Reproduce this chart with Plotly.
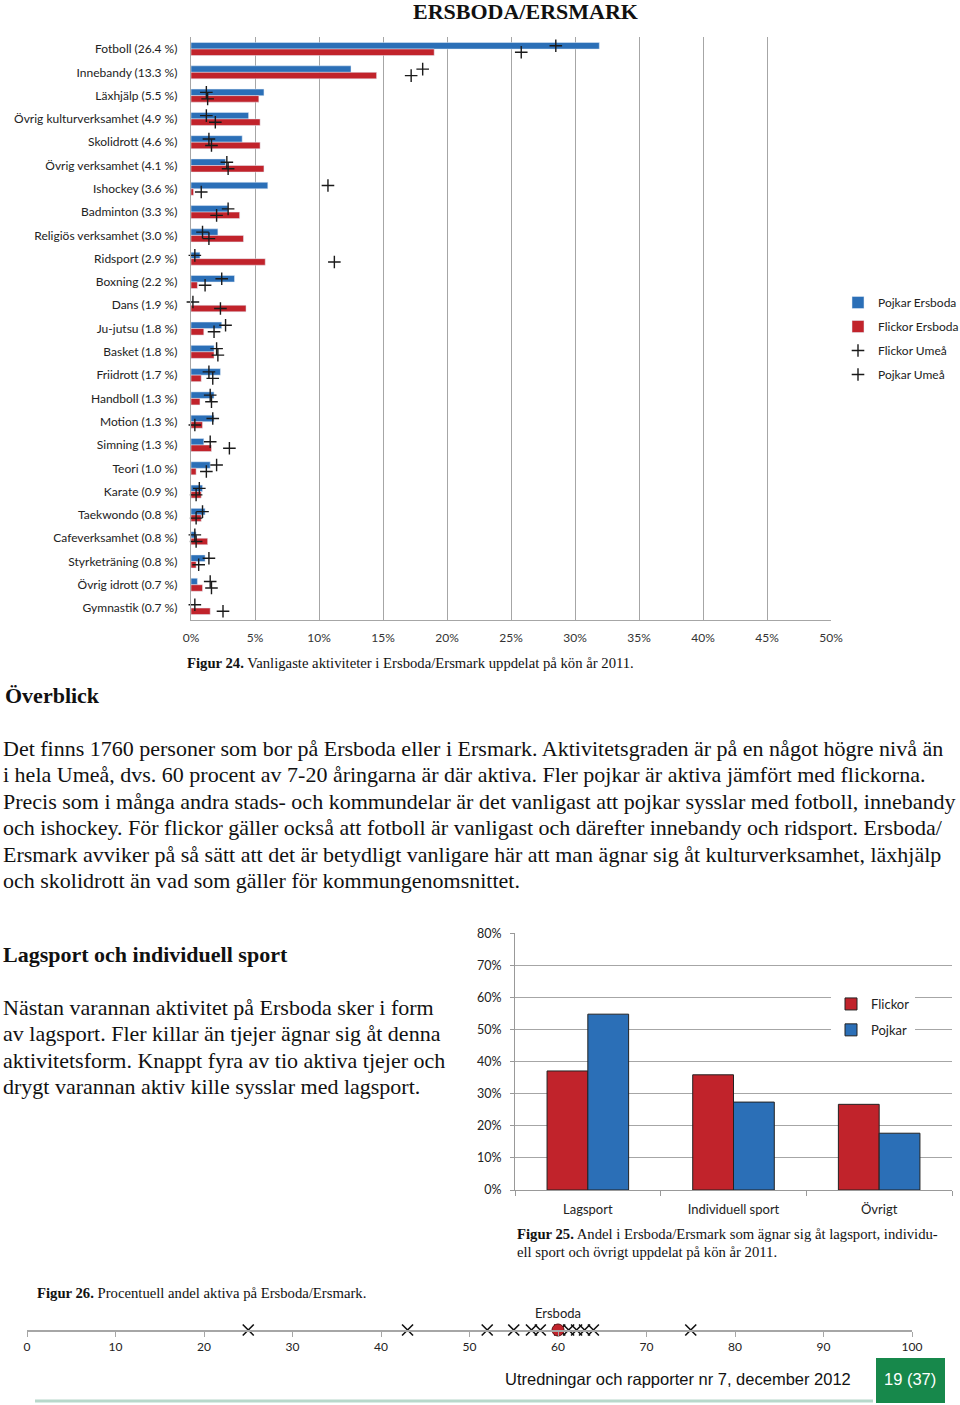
import plotly.graph_objects as go

# ---------------- data ----------------
categories = ["Fotboll (26.4 %)", "Innebandy (13.3 %)", "Läxhjälp (5.5 %)",
              "Övrig kulturverksamhet (4.9 %)", "Skolidrott (4.6 %)", "Övrig verksamhet (4.1 %)",
              "Ishockey (3.6 %)", "Badminton (3.3 %)", "Religiös verksamhet (3.0 %)",
              "Ridsport (2.9 %)", "Boxning (2.2 %)", "Dans (1.9 %)", "Ju-jutsu (1.8 %)",
              "Basket (1.8 %)", "Friidrott (1.7 %)", "Handboll (1.3 %)", "Motion (1.3 %)",
              "Simning (1.3 %)", "Teori (1.0 %)", "Karate (0.9 %)", "Taekwondo (0.8 %)",
              "Cafeverksamhet (0.8 %)", "Styrketräning (0.8 %)", "Övrig idrott (0.7 %)",
              "Gymnastik (0.7 %)"]
pojkar_ersboda = [31.9, 12.5, 5.7, 4.5, 4.0, 2.7, 6.0, 2.9, 2.1, 0.7, 3.4, 0.0, 2.4, 1.8,
                  2.3, 1.8, 1.8, 1.0, 1.5, 0.9, 1.1, 0.4, 1.1, 0.5, 0.0]
flickor_ersboda = [19.0, 14.5, 5.3, 5.4, 5.4, 5.7, 0.2, 3.8, 4.1, 5.8, 0.5, 4.3, 1.0, 1.8,
                   0.8, 0.7, 0.9, 1.6, 0.4, 0.8, 0.8, 1.3, 0.4, 0.9, 1.5]
flickor_umea = [25.8, 17.2, 1.3, 1.9, 1.6, 2.9, 0.8, 2.0, 1.4, 11.2, 1.1, 2.3, 1.8, 2.1,
                1.7, 1.6, 0.3, 3.0, 1.2, 0.4, 0.4, 0.4, 0.6, 1.6, 2.5]
pojkar_umea = [28.5, 18.1, 1.2, 1.2, 1.4, 2.8, 10.7, 2.9, 0.9, 0.3, 2.4, 0.15, 2.7, 2.0,
               1.4, 1.5, 1.7, 1.5, 2.0, 0.65, 0.9, 0.3, 1.4, 1.5, 0.3]
pct_ticks = [0, 5, 10, 15, 20, 25, 30, 35, 40, 45, 50]
pct_labels = ["0%", "5%", "10%", "15%", "20%", "25%", "30%", "35%", "40%", "45%", "50%"]

sport_types = ["Lagsport", "Individuell sport", "Övrigt"]
flickor_typ = [37.1, 35.9, 26.7]
pojkar_typ = [54.8, 27.4, 17.7]

ersboda_active = [60]
other_active = [25, 43, 52, 55, 57, 58, 60.2, 61.2, 62.1, 63.0, 64.0, 75]

# ---------------- helpers ----------------
W, H = 960, 1405
def px(x):
    return x / W
def py(y):
    return 1 - y / H

BLUE = "#2b6fb7"
RED = "#c1232b"
GRID = "#a6a6a6"
SANS = "Lato, 'Open Sans', sans-serif"
SERIF = "'Liberation Serif', 'DejaVu Serif', serif"

fig = go.Figure()

# ---------------- Figure 24 ----------------
ys = list(range(len(categories)))
off = 0.14
fig.add_trace(go.Bar(y=ys, x=pojkar_ersboda, orientation="h", name="Pojkar Ersboda",
                     marker=dict(color=BLUE), legendgroup="a", xaxis="x", yaxis="y"))
fig.add_trace(go.Bar(y=ys, x=flickor_ersboda, orientation="h", name="Flickor Ersboda",
                     marker=dict(color=RED), legendgroup="b", xaxis="x", yaxis="y"))
plus = dict(symbol="cross-thin", size=9, color="#1a1a1a", line=dict(width=1.4, color="#1a1a1a"))
fig.add_trace(go.Scatter(x=flickor_umea, y=[i + off for i in ys], mode="markers",
                         name="Flickor Umeå", marker=plus, legendgroup="c",
                         xaxis="x", yaxis="y", cliponaxis=False))
fig.add_trace(go.Scatter(x=pojkar_umea, y=[i - off for i in ys], mode="markers",
                         name="Pojkar Umeå", marker=plus, legendgroup="d",
                         xaxis="x", yaxis="y", cliponaxis=False))

# ---------------- Figure 25 ----------------
fig.add_trace(go.Bar(x=sport_types, y=flickor_typ, name="Flickor",
                     marker=dict(color=RED, line=dict(color="#222222", width=1)),
                     xaxis="x2", yaxis="y2", legend="legend2", legendgroup="e"))
fig.add_trace(go.Bar(x=sport_types, y=pojkar_typ, name="Pojkar",
                     marker=dict(color=BLUE, line=dict(color="#222222", width=1)),
                     xaxis="x2", yaxis="y2", legend="legend2", legendgroup="f"))

# ---------------- Figure 26 ----------------
fig.add_trace(go.Scatter(x=other_active, y=[0] * len(other_active), mode="markers",
                         marker=dict(symbol="x-thin", size=11, color="#111111",
                                     line=dict(width=1.6, color="#111111")),
                         showlegend=False, xaxis="x3", yaxis="y3", cliponaxis=False))
fig.add_trace(go.Scatter(x=ersboda_active, y=[0], mode="markers+text", text=["Ersboda"],
                         textposition="top center",
                         textfont=dict(family=SANS, size=13, color="#222222"),
                         marker=dict(symbol="circle", size=12, color=RED,
                                     line=dict(width=1, color="#5a1010")),
                         showlegend=False, xaxis="x3", yaxis="y3", cliponaxis=False))

# ---------------- annotations ----------------
ann = []
def text(x, y, s, size, family=SERIF, color="#111111", xanchor="left", yanchor="middle"):
    ann.append(dict(x=px(x), y=py(y), xref="paper", yref="paper", text=s, showarrow=False,
                    xanchor=xanchor, yanchor=yanchor, align="left",
                    font=dict(family=family, size=size, color=color)))

text(525, 12, "<b>ERSBODA/ERSMARK</b>", 22, xanchor="center")
text(185, 663, "<b>Figur 24.</b> Vanligaste aktiviteter i Ersboda/Ersmark uppdelat på kön år 2011.", 14.7)
text(3, 695, "<b>Överblick</b>", 22)
para1 = ["Det finns 1760 personer som bor på Ersboda eller i Ersmark. Aktivitetsgraden är på en något högre nivå än",
         "i hela Umeå, dvs. 60 procent av 7-20 åringarna är där aktiva. Fler pojkar är aktiva jämfört med flickorna.",
         "Precis som i många andra stads- och kommundelar är det vanligast att pojkar sysslar med fotboll, innebandy",
         "och ishockey. För flickor gäller också att fotboll är vanligast och därefter innebandy och ridsport. Ersboda/",
         "Ersmark avviker på så sätt att det är betydligt vanligare här att man ägnar sig åt kulturverksamhet, läxhjälp",
         "och skolidrott än vad som gäller för kommungenomsnittet."]
for k, line in enumerate(para1):
    text(1, 748 + 26.5 * k, line, 22)
text(1, 954, "<b>Lagsport och individuell sport</b>", 22)
para2 = ["Nästan varannan aktivitet på Ersboda sker i form",
         "av lagsport. Fler killar än tjejer ägnar sig åt denna",
         "aktivitetsform. Knappt fyra av tio aktiva tjejer och",
         "drygt varannan aktiv kille sysslar med lagsport."]
for k, line in enumerate(para2):
    text(1, 1007 + 26.6 * k, line, 22)
text(515, 1234, "<b>Figur 25.</b> Andel i Ersboda/Ersmark som ägnar sig åt lagsport, individu-", 14.7)
text(515, 1252, "ell sport och övrigt uppdelat på kön år 2011.", 14.7)
text(35, 1293, "<b>Figur 26.</b> Procentuell andel aktiva på Ersboda/Ersmark.", 14.7)
text(853, 1379, "Utredningar och rapporter nr 7, december 2012", 16.5,
     family="'Liberation Sans', Arial, sans-serif", xanchor="right")
text(910, 1379, "19 (37)", 16.5, family="'Liberation Sans', Arial, sans-serif",
     color="#ffffff", xanchor="center")

shapes = [
    dict(type="rect", xref="paper", yref="paper", x0=px(876), x1=px(945), y0=py(1403), y1=py(1358),
         fillcolor="#17884b", line=dict(width=0), layer="below"),
    dict(type="line", xref="paper", yref="paper", x0=px(35), x1=px(873), y0=py(1401), y1=py(1401),
         line=dict(color="#b8d8cb", width=3)),
]

fig.update_layout(
    width=W, height=H, margin=dict(l=0, r=0, t=0, b=0, pad=0, autoexpand=False),
    paper_bgcolor="white", plot_bgcolor="white",
    barmode="group", bargap=0.44, bargroupgap=0,
    showlegend=True,
    annotations=ann, shapes=shapes,
    legend=dict(x=px(838), y=py(288), xanchor="left", yanchor="top",
                font=dict(family=SANS, size=12, color="#222222"),
                bgcolor="rgba(0,0,0,0)", tracegroupgap=5, itemwidth=30,
                traceorder="grouped"),
    legend2=dict(x=px(831), y=py(989), xanchor="left", yanchor="top",
                 font=dict(family=SANS, size=13, color="#222222"),
                 bgcolor="white", tracegroupgap=6, itemwidth=30, traceorder="grouped"),
    xaxis=dict(domain=[px(191), px(831)], range=[0, 50], tickvals=pct_ticks,
               ticktext=pct_labels, showgrid=True, gridcolor=GRID, gridwidth=1.3,
               showline=True, linecolor=GRID, linewidth=1.3, zeroline=False, ticks="",
               tickfont=dict(family=SANS, size=12, color="#333333"),
               ticklabelstandoff=7, anchor="y", fixedrange=True),
    yaxis=dict(domain=[py(619.7), py(37.4)], range=[24.5, -0.5], tickvals=ys,
               ticktext=categories, showgrid=False, showline=True, linecolor=GRID,
               linewidth=1.3, zeroline=False, ticks="",
               tickfont=dict(family=SANS, size=12, color="#222222"),
               ticklabelstandoff=10, anchor="x", fixedrange=True),
    xaxis2=dict(domain=[px(515), px(952)], type="category", anchor="y2",
                showline=True, linecolor="#999999", ticks="outside", tickson="boundaries",
                ticklen=5, tickcolor="#999999", ticklabelstandoff=7,
                tickfont=dict(family=SANS, size=13, color="#222222"), fixedrange=True),
    yaxis2=dict(domain=[py(1190), py(933.3)], range=[0, 80], dtick=10, ticksuffix="%",
                showgrid=True, gridcolor=GRID, gridwidth=1.2, showline=True,
                linecolor="#999999", ticks="outside", ticklen=4, tickcolor="#999999",
                zeroline=False, tickfont=dict(family=SANS, size=12.5, color="#222222"),
                ticklabelstandoff=6, anchor="x2", fixedrange=True),
    xaxis3=dict(domain=[px(27), px(912)], range=[0, 100], dtick=10, anchor="y3",
                showgrid=False, showline=True, linecolor=GRID, linewidth=1.5,
                ticks="outside", ticklen=5, tickcolor=GRID, zeroline=False,
                tickfont=dict(family=SANS, size=12, color="#222222"), fixedrange=True),
    yaxis3=dict(domain=[py(1330), py(1300)], range=[0, 1], visible=False,
                anchor="x3", fixedrange=True),
)

fig.write_html("out.html", config={"displayModeBar": False},
               post_script="document.body.style.margin='0';")
